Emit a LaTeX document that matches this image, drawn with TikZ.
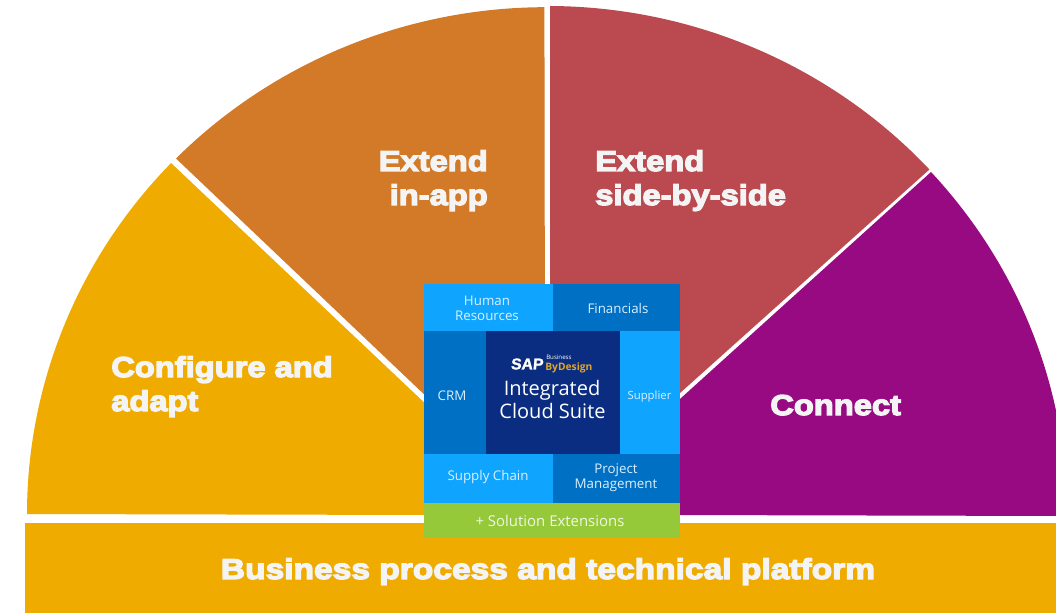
\documentclass[tikz,border=0pt]{standalone}
\usepackage{fontspec}
\setmainfont{Open Sans}
\newfontfamily\heavy[FakeBold=4.5,FakeStretch=1.14]{Liberation Sans Bold}
\newfontfamily\heavier[FakeBold=4.5,FakeStretch=1.17]{Liberation Sans Bold}
\newfontfamily\logofont[FakeBold=1.5,FakeSlant=0.08]{Liberation Sans Bold}
\definecolor{yel}{HTML}{F0AB00}
\definecolor{ora}{HTML}{D37A28}
\definecolor{redd}{HTML}{BA4A4F}
\definecolor{pur}{HTML}{970A82}
\definecolor{lblue}{HTML}{0FA5FF}
\definecolor{mblue}{HTML}{0070C4}
\definecolor{navy}{HTML}{0A2D82}
\definecolor{grn}{HTML}{95C93A}
\definecolor{soft}{HTML}{F4F4F4}
\definecolor{tile}{HTML}{DCEFFC}
\definecolor{gold}{HTML}{E0A526}
\tikzset{
  biglabel/.style={text=soft,inner sep=0pt,font=\heavy\fontsize{21.5}{26.2}\selectfont},
  tilelabel/.style={text=tile,inner sep=0pt,align=center,font=\fontsize{10}{11}\selectfont},
  suitelabel/.style={text=white,inner sep=0pt,font=\fontsize{15}{15}\selectfont}
}
\begin{document}
\begin{tikzpicture}[x=0.75pt,y=-0.75pt]
\useasboundingbox (0,0) rectangle (1056,613);
\clip (0,0) rectangle (1056,613);
\fill[white] (0,0) rectangle (1056,613);
% wedges
\fill[yel] (27,514) arc[x radius=520,y radius=508,start angle=180,end angle=223.7] -- (430,408) -- (430,515) -- cycle;
\fill[ora] (176,158.5) arc[x radius=520,y radius=508,start angle=224.6,end angle=269.8] -- (545,400) -- (430,400) -- cycle;
\fill[redd] (550,6) arc[x radius=520,y radius=508,start angle=270.3,end angle=317.3] -- (670,402) -- (550,402) -- cycle;
\fill[pur] (931,172) arc[x radius=520,y radius=508,start angle=317.6,end angle=360] -- (1067,516) -- (670,515) -- (670,408) -- cycle;
% platform
\fill[yel] (25,523) rectangle (1056,613);
% suite tiles
\fill[lblue] (424,283.5) rectangle (553,331);
\fill[mblue] (553,283.5) rectangle (680,331);
\fill[mblue] (424,331) rectangle (485.5,454);
\fill[navy] (485.5,331) rectangle (620,454);
\fill[lblue] (620,331) rectangle (680,454);
\fill[lblue] (424,454) rectangle (553,502.5);
\fill[mblue] (553,454) rectangle (680,502.5);
\fill[grn] (424,502.5) rectangle (680,537.5);
% big labels
\node[biglabel,anchor=base east] (l1) at (488,171) {Extend};
\node[biglabel,anchor=base east] (l2) at (488,205) {in-app};
\node[biglabel,anchor=base west] (l3) at (595,171) {Extend};
\node[biglabel,anchor=base west] (l4) at (595,205) {side-by-side};
\node[biglabel,anchor=base west] (l5) at (111,377) {Configure and};
\node[biglabel,anchor=base west] (l6) at (111,411) {adapt};
\node[biglabel,anchor=base west] (l7) at (770,415) {Connect};
\node[biglabel,anchor=base,font=\heavier\fontsize{21.5}{26.2}\selectfont] (l8) at (548,579) {Business process and technical platform};
% tile labels
\node[tilelabel] (t1) at (487,308) {Human\\Resources};
\node[tilelabel] (t2) at (618,308) {Financials};
\node[tilelabel] (t3) at (452,396) {CRM};
\node[tilelabel,font=\fontsize{8.5}{10}\selectfont] (t4) at (649.5,396.5) {Supplier};
\node[tilelabel] (t5) at (488,477) {Supply Chain};
\node[tilelabel] (t6) at (616,477.5) {Project\\Management};
\node[tilelabel,font=\fontsize{11.2}{12}\selectfont,text=white!85!grn] (t7) at (550,520.5) {+ Solution Extensions};
\node[suitelabel,anchor=base] (t8) at (552,395) {Integrated};
\node[suitelabel,anchor=base] (t9) at (552.5,418) {Cloud Suite};
% logo
\node[text=white,inner sep=0pt,anchor=west,font=\logofont\fontsize{11.8}{11.8}\selectfont] (sap) at (510.5,364) {SAP};
\node[text=white,inner sep=0pt,anchor=west,font=\fontsize{4.6}{4.6}\selectfont] (biz) at (546,357) {Business};
\node[text=gold,inner sep=0pt,anchor=west,font=\bfseries\fontsize{7.7}{7.7}\selectfont] (byd) at (545,368) {ByDesign};
\end{tikzpicture}
\end{document}
